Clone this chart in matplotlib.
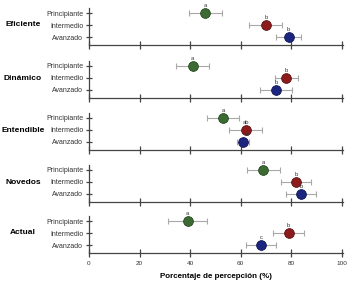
import numpy as np
import matplotlib
matplotlib.use("Agg")
import matplotlib.pyplot as plt

plt.rcParams['font.family'] = ['Liberation Sans', 'DejaVu Sans']

# data
criterios = ['Eficiente', 'Dinámico', 'Entendible', 'Novedos', 'Actual']
niveles = ['Principiante', 'Intermedio', 'Avanzado']
medias = [
    [46, 70, 79],
    [41, 78, 74],
    [53, 62, 61],
    [69, 82, 84],
    [39, 79, 68],
]
errores = [
    [6.5, 6.5, 5],
    [6.5, 4.6, 6.4],
    [6.5, 6.5, 2.3],
    [6.5, 6, 6],
    [7.6, 6, 6],
]
letras = [
    ['a', 'b', 'b'],
    ['a', 'b', 'b'],
    ['a', 'ab', 'b'],
    ['a', 'b', 'b'],
    ['a', 'b', 'c'],
]
colores = ['#3b6b32', '#8e1b1b', '#1b2580']
bordes = ['#24451e', '#5a0f0f', '#0e1450']
xticks = [0, 20, 40, 60, 80, 100]

W, H = 350, 285
fig = plt.figure(figsize=(W / 100, H / 100), dpi=100)

ejes_y = [45, 98, 150, 202, 253]  # pixel row of each axis line
x0, x1 = 89, 343
alto = 37

ypos = [3, 2, 1]
for i, crit in enumerate(criterios):
    base = ejes_y[i]
    ax = fig.add_axes([x0 / W, (H - base) / H, (x1 - x0) / W, alto / H])
    for j in range(3):
        ax.errorbar(medias[i][j], ypos[j], xerr=errores[i][j], fmt='none',
                    ecolor='#a8a8a8', elinewidth=0.8, capsize=2.2, capthick=0.8, zorder=2)
        ax.plot(medias[i][j], ypos[j], 'o', ms=7, color=colores[j],
                mec=bordes[j], mew=0.6, zorder=3)
        dx = 1.5 if (letras[i][j] == 'b' and i == 2 and j == 2) else 0
        ax.text(medias[i][j] + dx, ypos[j] + 0.42, letras[i][j], ha='center', va='bottom',
                fontsize=4.2, color='#333333')
    ax.set_xlim(0, 100.5)
    ax.set_ylim(1 - 8 / 12, 1 - 8 / 12 + alto / 12)
    ax.set_yticks(ypos)
    ax.set_yticklabels(niveles, fontsize=5, color='#333333')
    ax.set_xticks(xticks)
    if i == len(criterios) - 1:
        ax.set_xticklabels([str(t) for t in xticks], fontsize=4.6, color='#333333')
        ax.set_xlabel('Porcentaje de percepción (%)', fontsize=5.8, fontweight='bold', labelpad=5)
    else:
        ax.set_xticklabels([])
    ax.tick_params(axis='x', direction='inout', length=6, width=0.9, color='#444444', pad=3)
    ax.tick_params(axis='y', direction='inout', length=5, width=0.9, color='#444444', pad=1.5)
    for s in ['top', 'right']:
        ax.spines[s].set_visible(False)
    for s in ['left', 'bottom']:
        ax.spines[s].set_color('#444444')
        ax.spines[s].set_linewidth(0.9)
    ax.patch.set_alpha(0)
    fig.text(23 / W, (H - (base - 20)) / H, crit, ha='center', va='center',
             fontsize=6.0, fontweight='bold')

fig.savefig('out.png', dpi=100)
